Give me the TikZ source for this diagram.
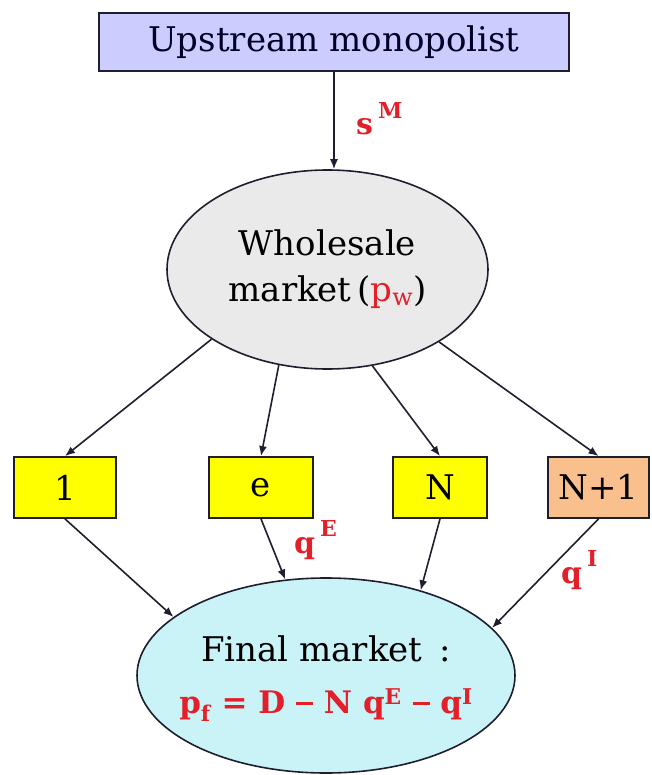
\documentclass[tikz,border=0pt]{standalone}
\usepackage{fontspec}
\setmainfont{DejaVu Serif}
\usetikzlibrary{shapes.geometric,arrows.meta}
\definecolor{redlab}{HTML}{E3202A}
\definecolor{lav}{HTML}{CCCCFF}
\definecolor{wgray}{HTML}{EAEAEA}
\definecolor{fcyan}{HTML}{C9F3F7}
\definecolor{peach}{HTML}{F9C08E}
\definecolor{ylw}{HTML}{FFFF00}
\definecolor{edge}{HTML}{1E1E2E}
\newcommand{\mysupl}[1]{\raisebox{0.55em}{\fontsize{22}{22}\selectfont #1}}
\newcommand{\mydash}{\rule[0.28em]{0.55em}{0.08em}}
\tikzset{
  big/.style={font=\fontsize{34}{46}\selectfont},
  topbox/.style={draw=edge, fill=lav, line width=1.8pt, minimum width=470, minimum height=58, inner sep=0, big, text=black!85!blue},
  firm/.style={draw=edge, fill=ylw, line width=1.8pt, minimum height=61, inner sep=0, big},
  market/.style={ellipse, draw=edge, line width=1.6pt, inner sep=0},
  mtext/.style={big, align=center, inner sep=0},
  arr/.style={draw=edge, line width=1.6pt, -{Latex[length=10pt,width=8pt]}},
  lab/.style={text=redlab, font=\fontsize{30}{30}\selectfont\bfseries, inner sep=0}
}
\begin{document}
\begin{tikzpicture}[x=1pt,y=-1pt]
\useasboundingbox (0,0) rectangle (651,775);
\node[topbox] (U) at (334,42) {Upstream monopolist};
\node[market, fill=wgray, minimum width=321, minimum height=199] (W) at (327.5,269.5) {};
\node[mtext] (Wt) at (W.center) {Wholesale\\market\,({\color{redlab}p\textsubscript{w}})};
\node[firm, minimum width=102] (b1) at (65,487.5) {1};
\node[firm, minimum width=104] (be) at (261,487.5) {e};
\node[firm, minimum width=94] (bN) at (440,487.5) {N};
\node[firm, fill=peach, minimum width=101] (bN1) at (598.5,487.5) {N+1};
\node[market, fill=fcyan, minimum width=378, minimum height=195] (F) at (326,675.5) {};
\node[mtext] (Ft) at ([yshift=-3pt]F.center)
  {Final market\enspace:\\[6pt]{\color{redlab}\bfseries\fontsize{31}{40}\selectfont p\textsubscript{f} = D \mydash{} N q\textsuperscript{E} \mydash{} q\textsuperscript{I}}};
\draw[arr] (U.south) -- (U.south |- W.north);
\draw[arr] (W.211) -- (b1.north);
\draw[arr] (W.243) -- (be.north);
\draw[arr] (W.295) -- (bN.north);
\draw[arr] (W.327) -- (bN1.north);
\draw[arr] (b1.south) -- (F.159.5);
\draw[arr] (be.south) -- (F.113.6);
\draw[arr] (bN.south) -- (F.42.2);
\draw[arr] (bN1.south) -- (F.16.7);
\node[lab, anchor=base west] (sM) at (356,135) {s\,\mysupl{M}};
\node[lab, anchor=base west] (qE) at (294,553) {q\,\mysupl{E}};
\node[lab, anchor=base west] (qI) at (561,583) {q\,\mysupl{I}};
\end{tikzpicture}
\end{document}
